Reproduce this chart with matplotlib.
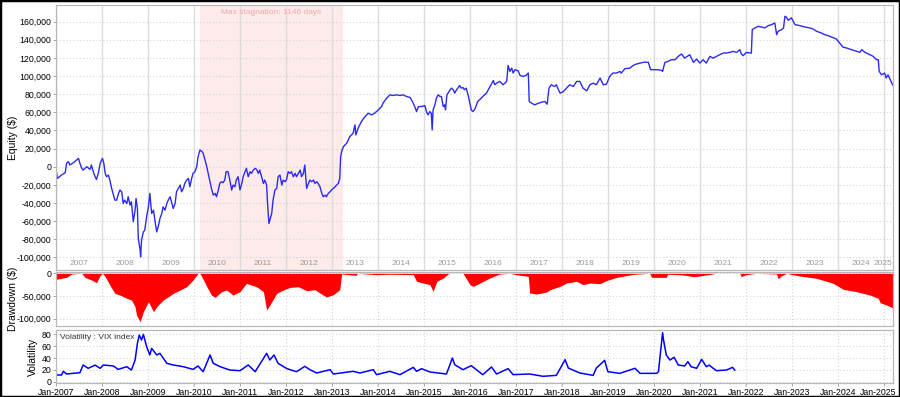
import numpy as np
import matplotlib
matplotlib.use("Agg")
import matplotlib.pyplot as plt
from matplotlib.patches import Rectangle
from matplotlib.ticker import FuncFormatter

plt.rcParams['font.family'] = ['Liberation Sans Narrow', 'Liberation Sans', 'DejaVu Sans']

# equity curve, decimal year / thousands of $
eq_t = [2007.00, 2007.03, 2007.12, 2007.20, 2007.23, 2007.27, 2007.30, 2007.38, 2007.49, 2007.52,
        2007.56, 2007.59, 2007.67, 2007.74, 2007.77, 2007.81, 2007.85, 2007.88, 2007.92, 2007.96,
        2008.01, 2008.04, 2008.07, 2008.10, 2008.14, 2008.17, 2008.21, 2008.25, 2008.28, 2008.32,
        2008.36, 2008.39, 2008.43, 2008.46, 2008.49, 2008.54, 2008.57, 2008.61, 2008.64, 2008.68,
        2008.72, 2008.74, 2008.77, 2008.79, 2008.83, 2008.84, 2008.86, 2008.90, 2008.93, 2008.97,
        2009.01, 2009.04, 2009.08, 2009.12, 2009.15, 2009.19, 2009.23, 2009.26, 2009.30, 2009.33,
        2009.37, 2009.41, 2009.44, 2009.48, 2009.51, 2009.55, 2009.59, 2009.62, 2009.66, 2009.70,
        2009.73, 2009.77, 2009.80, 2009.84, 2009.88, 2009.91, 2009.95, 2009.98, 2010.02, 2010.06,
        2010.09, 2010.13, 2010.18, 2010.20, 2010.24, 2010.27, 2010.31, 2010.34, 2010.38, 2010.42,
        2010.46, 2010.49, 2010.53, 2010.56, 2010.60, 2010.63, 2010.67, 2010.70, 2010.74, 2010.78,
        2010.82, 2010.85, 2010.89, 2010.92, 2010.96, 2011.00, 2011.04, 2011.07, 2011.11, 2011.14,
        2011.18, 2011.22, 2011.25, 2011.29, 2011.33, 2011.36, 2011.40, 2011.43, 2011.47, 2011.51,
        2011.54, 2011.58, 2011.60, 2011.63, 2011.65, 2011.69, 2011.72, 2011.76, 2011.80, 2011.83,
        2011.87, 2011.91, 2011.94, 2011.98, 2012.01, 2012.05, 2012.09, 2012.12, 2012.16, 2012.20,
        2012.23, 2012.27, 2012.31, 2012.34, 2012.38, 2012.41, 2012.45, 2012.49, 2012.52, 2012.56,
        2012.60, 2012.63, 2012.67, 2012.70, 2012.74, 2012.78, 2012.81, 2012.85, 2012.88, 2012.92,
        2012.96, 2012.99, 2013.03, 2013.07, 2013.10, 2013.14, 2013.17, 2013.19, 2013.21, 2013.25,
        2013.32, 2013.39, 2013.46, 2013.50, 2013.52, 2013.57, 2013.64, 2013.72, 2013.79, 2013.86,
        2013.93, 2014.01, 2014.08, 2014.11, 2014.19, 2014.26, 2014.33, 2014.41, 2014.48, 2014.55,
        2014.62, 2014.70, 2014.75, 2014.80, 2014.84, 2014.88, 2014.95, 2015.02, 2015.06, 2015.09,
        2015.13, 2015.16, 2015.18, 2015.20, 2015.24, 2015.27, 2015.31, 2015.35, 2015.38, 2015.42,
        2015.45, 2015.47, 2015.50, 2015.57, 2015.60, 2015.64, 2015.67, 2015.71, 2015.78, 2015.81,
        2015.85, 2015.88, 2015.92, 2015.96, 2015.99, 2016.03, 2016.06, 2016.10, 2016.13, 2016.17,
        2016.21, 2016.28, 2016.36, 2016.43, 2016.51, 2016.54, 2016.58, 2016.65, 2016.72, 2016.80,
        2016.83, 2016.87, 2016.91, 2016.94, 2016.98, 2017.05, 2017.09, 2017.16, 2017.22, 2017.27,
        2017.29, 2017.34, 2017.41, 2017.49, 2017.56, 2017.63, 2017.68, 2017.72, 2017.77, 2017.84,
        2017.88, 2017.91, 2017.96, 2018.03, 2018.10, 2018.17, 2018.25, 2018.32, 2018.39, 2018.46,
        2018.54, 2018.61, 2018.68, 2018.75, 2018.83, 2018.90, 2018.97, 2019.04, 2019.11, 2019.19,
        2019.26, 2019.29, 2019.37, 2019.48, 2019.55, 2019.62, 2019.70, 2019.80, 2019.88, 2019.93,
        2020.02, 2020.09, 2020.17, 2020.19, 2020.24, 2020.31, 2020.38, 2020.46, 2020.53, 2020.60,
        2020.67, 2020.78, 2020.86, 2020.93, 2021.00, 2021.07, 2021.14, 2021.22, 2021.29, 2021.36,
        2021.43, 2021.51, 2021.58, 2021.65, 2021.72, 2021.80, 2021.87, 2021.90, 2021.94, 2022.01,
        2022.09, 2022.12, 2022.14, 2022.20, 2022.27, 2022.34, 2022.41, 2022.49, 2022.56, 2022.63,
        2022.67, 2022.70, 2022.78, 2022.82, 2022.85, 2022.88, 2022.92, 2022.99, 2023.07, 2023.17,
        2023.28, 2023.39, 2023.46, 2023.54, 2023.64, 2023.72, 2023.79, 2023.86, 2023.97, 2024.04,
        2024.11, 2024.19, 2024.30, 2024.41, 2024.48, 2024.52, 2024.59, 2024.70, 2024.77, 2024.84,
        2024.88, 2024.90, 2024.95, 2025.02, 2025.05, 2025.09, 2025.14, 2025.19, 2025.22]
eq_v = [-2.9, -12.9, -9.2, -6.6, 3.7, 5.6, 1.9, 4.5, 9.2, 3.7,
        -1.8, -3.7, 0.0, -2.9, 1.9, -5.5, -11.0, -14.0, -7.3, 3.7,
        9.2, 3.7, -7.3, -11.0, -9.2, -14.7, -23.9, -31.3, -36.8, -36.8,
        -29.4, -25.7, -27.9, -40.5, -36.8, -40.5, -33.1, -42.3, -38.6, -60.7,
        -47.9, -35.0, -46.0, -79.2, -92.1, -99.4, -81.0, -71.8, -70.0, -55.2,
        -44.2, -29.4, -51.5, -47.9, -58.9, -71.8, -64.4, -57.1, -51.5, -44.2,
        -47.9, -40.5, -36.8, -33.1, -38.6, -46.0, -40.5, -27.6, -23.9, -20.2,
        -27.6, -23.9, -18.4, -14.7, -12.9, -22.1, -12.9, -7.3, -5.5, 0.0,
        11.1, 18.4, 16.6, 14.8, 7.4, 1.9, -7.3, -14.7, -23.9, -31.3,
        -29.4, -33.1, -25.7, -18.4, -16.5, -17.6, -14.7, -5.5, -5.5, -14.7,
        -25.7, -20.2, -22.1, -14.7, -11.0, -25.7, -18.4, -11.0, -5.5, -1.8,
        -11.0, -5.5, -7.3, -3.7, -1.8, -2.9, -7.3, -3.7, -11.0, -18.4,
        -14.7, -20.2, -40.5, -62.6, -58.9, -51.5, -36.8, -25.7, -23.9, -11.0,
        -9.2, -20.2, -14.7, -16.5, -14.7, -5.5, -7.3, -5.5, -11.0, -7.3,
        -11.0, -7.3, -3.7, -11.0, -7.3, 1.9, -23.9, -18.4, -14.7, -16.5,
        -14.7, -18.4, -16.5, -18.4, -22.1, -29.4, -33.1, -31.3, -33.1, -29.4,
        -27.6, -25.7, -23.9, -22.1, -20.2, -18.4, -12.9, 11.1, 16.6, 22.1,
        25.8, 33.2, 36.9, 46.1, 35.0, 42.4, 49.8, 55.3, 59.0, 57.1,
        59.0, 62.7, 66.3, 70.0, 75.5, 79.2, 78.5, 79.2, 78.5, 79.2,
        77.4, 76.3, 71.9, 66.3, 60.8, 66.3, 66.3, 67.4, 60.1, 57.1,
        60.8, 59.0, 40.6, 62.7, 68.2, 75.5, 79.2, 77.4, 77.4, 66.3,
        68.2, 62.7, 79.2, 84.8, 86.6, 84.8, 81.1, 84.8, 89.5, 86.6,
        87.3, 84.8, 86.6, 79.2, 71.9, 62.7, 60.8, 62.7, 66.3, 71.9,
        73.7, 77.4, 81.1, 87.5, 95.0, 90.3, 92.1, 94.0, 90.3, 94.0,
        111.6, 105.0, 108.7, 103.2, 106.9, 105.7, 100.6, 99.5, 100.6, 103.2,
        71.9, 70.0, 68.2, 70.0, 71.1, 71.9, 68.9, 86.6, 90.3, 88.4,
        90.3, 86.6, 81.1, 82.8, 86.6, 90.3, 88.4, 94.0, 94.0, 86.6,
        83.6, 90.3, 92.1, 90.3, 97.7, 90.3, 91.0, 99.5, 103.2, 103.2,
        105.0, 103.2, 108.0, 108.7, 111.6, 113.1, 114.2, 115.3, 115.0, 106.9,
        106.9, 106.9, 106.1, 105.0, 115.0, 116.1, 117.9, 117.9, 121.6, 124.2,
        119.7, 123.4, 115.0, 118.6, 114.2, 117.9, 114.2, 121.6, 119.7, 121.6,
        123.4, 125.3, 125.3, 126.0, 127.1, 126.0, 129.0, 124.5, 122.3, 126.0,
        125.3, 125.3, 151.1, 152.9, 154.7, 154.0, 152.9, 155.5, 156.6, 158.4,
        145.5, 149.2, 151.1, 152.9, 165.8, 165.0, 161.4, 164.0, 156.6, 155.5,
        154.0, 152.9, 151.8, 149.2, 147.4, 145.5, 144.4, 143.0, 140.7, 136.3,
        131.9, 130.8, 129.0, 127.1, 126.0, 129.0, 126.0, 123.4, 121.6, 117.9,
        117.9, 105.0, 101.3, 103.2, 97.7, 101.3, 95.8, 90.3, 89.2]

# drawdown, thousands of $
dd_t = [2007.00, 2007.23, 2007.34, 2007.56, 2007.63, 2007.77, 2007.88, 2007.96, 2008.01, 2008.07,
        2008.17, 2008.28, 2008.39, 2008.54, 2008.64, 2008.72, 2008.75, 2008.83, 2008.90, 2009.01,
        2009.12, 2009.19, 2009.33, 2009.44, 2009.55, 2009.70, 2009.84, 2009.98, 2010.09, 2010.13,
        2010.17, 2010.28, 2010.38, 2010.46, 2010.60, 2010.71, 2010.85, 2011.00, 2011.14, 2011.36,
        2011.51, 2011.58, 2011.65, 2011.80, 2011.94, 2012.09, 2012.27, 2012.45, 2012.63, 2012.74,
        2012.88, 2013.03, 2013.17, 2013.21, 2013.53, 2013.55, 2013.97, 2014.26, 2014.77, 2014.84,
        2014.98, 2015.13, 2015.20, 2015.28, 2015.42, 2015.49, 2015.55, 2015.85, 2016.00, 2016.07,
        2016.22, 2016.43, 2016.65, 2016.87, 2017.01, 2017.27, 2017.30, 2017.45, 2017.67, 2017.74,
        2017.96, 2018.10, 2018.32, 2018.46, 2018.61, 2018.83, 2018.97, 2019.19, 2019.55, 2019.91,
        2019.95, 2020.27, 2020.30, 2020.64, 2020.86, 2021.00, 2021.36, 2021.87, 2021.90, 2022.00,
        2022.23, 2022.67, 2022.70, 2022.77, 2022.88, 2023.17, 2023.54, 2023.90, 2024.12, 2024.41,
        2024.70, 2024.88, 2024.92, 2025.06, 2025.22]
dd_v = [-13.3, -8.9, -1.5, 0.0, -8.9, -14.7, -20.6, -5.0, 0.0, -7.4,
        -25.8, -44.1, -47.8, -55.1, -58.8, -73.5, -91.9, -106.6, -84.5, -62.5,
        -84.5, -73.5, -58.8, -51.5, -44.1, -36.8, -29.5, -14.7, 0.0, 0.0,
        -7.4, -29.5, -47.8, -52.9, -40.5, -36.8, -47.8, -40.5, -22.1, -29.5,
        -40.5, -80.9, -69.8, -44.1, -36.8, -31.0, -29.5, -38.3, -36.1, -43.4,
        -52.2, -47.1, -36.1, -1.5, -4.5, 0.0, -3.0, -2.0, -3.0, -17.7,
        -21.4, -25.0, -39.7, -17.7, -10.4, -4.5, 0.0, 0.0, -25.0, -28.7,
        -21.4, -10.4, -1.5, 0.0, -3.0, -6.7, -43.4, -45.6, -41.2, -36.1,
        -28.7, -21.4, -17.7, -25.0, -21.4, -22.8, -16.0, -8.9, -2.3, 0.0,
        -8.9, -8.9, -2.0, -3.7, -7.4, -5.9, 0.0, 0.0, -7.4, -3.0,
        0.0, -1.5, -11.8, -5.9, 0.0, -5.9, -11.1, -22.1, -35.3, -40.5,
        -47.8, -55.1, -64.7, -69.8, -77.2]

# VIX index
vix_t = [2007.00, 2007.12, 2007.16, 2007.23, 2007.52, 2007.59, 2007.70, 2007.85, 2007.96, 2008.03,
         2008.25, 2008.35, 2008.54, 2008.64, 2008.72, 2008.77, 2008.81, 2008.86, 2008.90, 2008.97,
         2009.04, 2009.08, 2009.19, 2009.26, 2009.41, 2009.55, 2009.77, 2009.98, 2010.09, 2010.20,
         2010.35, 2010.42, 2010.57, 2010.78, 2011.00, 2011.18, 2011.33, 2011.58, 2011.65, 2011.74,
         2011.83, 2012.01, 2012.09, 2012.23, 2012.41, 2012.52, 2012.67, 2012.96, 2013.03, 2013.46,
         2013.61, 2013.90, 2013.97, 2014.26, 2014.48, 2014.77, 2014.84, 2014.95, 2015.13, 2015.49,
         2015.62, 2015.67, 2015.85, 2016.03, 2016.14, 2016.28, 2016.47, 2016.58, 2016.83, 2016.94,
         2017.30, 2017.59, 2017.88, 2018.07, 2018.14, 2018.39, 2018.68, 2018.75, 2018.93, 2019.00,
         2019.26, 2019.59, 2019.70, 2020.06, 2020.10, 2020.19, 2020.21, 2020.27, 2020.35, 2020.44,
         2020.53, 2020.67, 2020.74, 2020.81, 2020.93, 2021.04, 2021.14, 2021.20, 2021.36, 2021.58,
         2021.71, 2021.76]
vix_v = [11.3, 11.3, 17.5, 13.0, 15.2, 28.2, 22.6, 28.0, 22.6, 28.2,
         26.5, 20.8, 25.3, 19.7, 36.6, 64.7, 78.8, 70.4, 79.9, 59.1,
         45.1, 56.3, 45.1, 47.9, 31.0, 28.2, 25.3, 20.8, 26.5, 16.9,
         45.1, 31.0, 25.3, 19.7, 18.6, 28.2, 16.9, 47.9, 36.6, 45.1,
         31.0, 22.6, 20.3, 16.9, 25.9, 20.3, 14.7, 20.3, 13.0, 17.5,
         14.7, 20.3, 11.9, 17.5, 11.9, 24.2, 17.5, 22.0, 16.4, 13.0,
         40.0, 28.7, 20.3, 27.1, 20.3, 11.9, 24.8, 13.0, 22.0, 11.9,
         13.0, 9.1, 10.7, 37.2, 23.1, 14.7, 10.7, 23.1, 36.1, 16.9,
         14.1, 22.6, 14.1, 14.1, 16.9, 82.7, 70.4, 45.1, 36.6, 41.2,
         28.2, 26.5, 33.8, 25.3, 22.6, 37.7, 25.3, 28.0, 18.6, 19.7,
         24.2, 19.7]

stag_start, stag_end = 2010.13, 2013.24
years = list(range(2007, 2026))

W, H = 900, 397
fig = plt.figure(figsize=(W / 100, H / 100), dpi=100)
left, right = 56, 893


def box(top, bottom):
    return [left / W, (H - bottom) / H, (right - left) / W, (bottom - top) / H]


ax1 = fig.add_axes(box(5, 270))
ax2 = fig.add_axes(box(272, 326), sharex=ax1)
ax3 = fig.add_axes(box(330, 383), sharex=ax1)

grid_kw = dict(color='#d4d4d4', linestyle=(0, (1, 2)), linewidth=0.8)
for ax in (ax1, ax2, ax3):
    for s in ax.spines.values():
        s.set_color('#b8b8b8')
        s.set_linewidth(0.9)
    ax.tick_params(labelsize=6.3, length=2, width=0.6, color='#999999', pad=1.5)
    ax.set_axisbelow(True)

# equity panel
eq_t = np.array(eq_t)
ax1.axvspan(stag_start, stag_end, color='#fdeaea', zorder=0.1, lw=0)
for y in years:
    ax1.axvline(y, color='#dcdcdc', lw=1.0, zorder=0.3)
ax1.yaxis.grid(True, **grid_kw)
ax1.plot(eq_t, np.array(eq_v) * 1000, color='#2b2bf0', lw=1.0)
ax1.set_ylim(-113800, 178200)
ax1.set_yticks(range(-100000, 160001, 20000))
ax1.yaxis.set_major_formatter(FuncFormatter(lambda v, p: f'{int(v):,}'))
ax1.tick_params(axis='x', bottom=False, labelbottom=False)
for y in years[:-1]:
    ax1.text(y + 0.5, 0.012, str(y), transform=ax1.get_xaxis_transform(),
             ha='center', va='bottom', fontsize=6, color='#9a9a9a')
ax1.text(2025.19, 0.012, '2025', transform=ax1.get_xaxis_transform(),
         ha='right', va='bottom', fontsize=6, color='#9a9a9a')
ax1.text((stag_start + stag_end) / 2, 0.985, 'Max stagnation: 1146 days',
         transform=ax1.get_xaxis_transform(), ha='center', va='top',
         fontsize=6, color='#f2a6a6')
ax1.set_ylabel('Equity ($)', fontsize=7.5)

# drawdown panel
ax2.fill_between(np.array(dd_t), np.array(dd_v) * 1000, 0, color='#ff0000', lw=0)
ax2.set_ylim(-116000, 2900)
ax2.set_yticks([0, -50000, -100000])
ax2.yaxis.set_major_formatter(FuncFormatter(lambda v, p: f'{int(v):,}'))
ax2.grid(True, **grid_kw)
ax2.tick_params(axis='x', bottom=False, labelbottom=False)
ax2.set_ylabel('Drawdown ($)', fontsize=7.5)

# volatility panel
ax3.plot(vix_t, vix_v, color='#0000ff', lw=1.1)
ax3.set_ylim(-2.2, 87.3)
ax3.set_yticks([0, 20, 40, 60, 80])
ax3.grid(True, **grid_kw)
ax3.set_xticks(years)
ax3.set_xticklabels([f'Jan-{y}' for y in years[:-1]] + [''])
# last label pulled a few pixels left so it stays inside the frame
ax3.annotate(f'Jan-{years[-1]}', xy=(years[-1], 0), xycoords=('data', 'axes fraction'),
             xytext=(-4, -3.5), textcoords='offset points', ha='center', va='top',
             fontsize=6.3)
ax3.set_ylabel('Volatility', fontsize=7.5)
ax3.text(0.005, 0.93, 'Volatility : VIX index', transform=ax3.transAxes,
         ha='left', va='top', fontsize=6, color='#333333')

ax1.set_xlim(2007.0, 2025.2)

for ax, x in ((ax1, 18), (ax2, 18), (ax3, 38)):
    ax.yaxis.set_label_coords((x - left) / (right - left), 0.5)

fig.patches.append(Rectangle((0, 0), 1, 1, transform=fig.transFigure,
                             fill=False, edgecolor='black', lw=2.5))

fig.savefig('out.png', dpi=100)
